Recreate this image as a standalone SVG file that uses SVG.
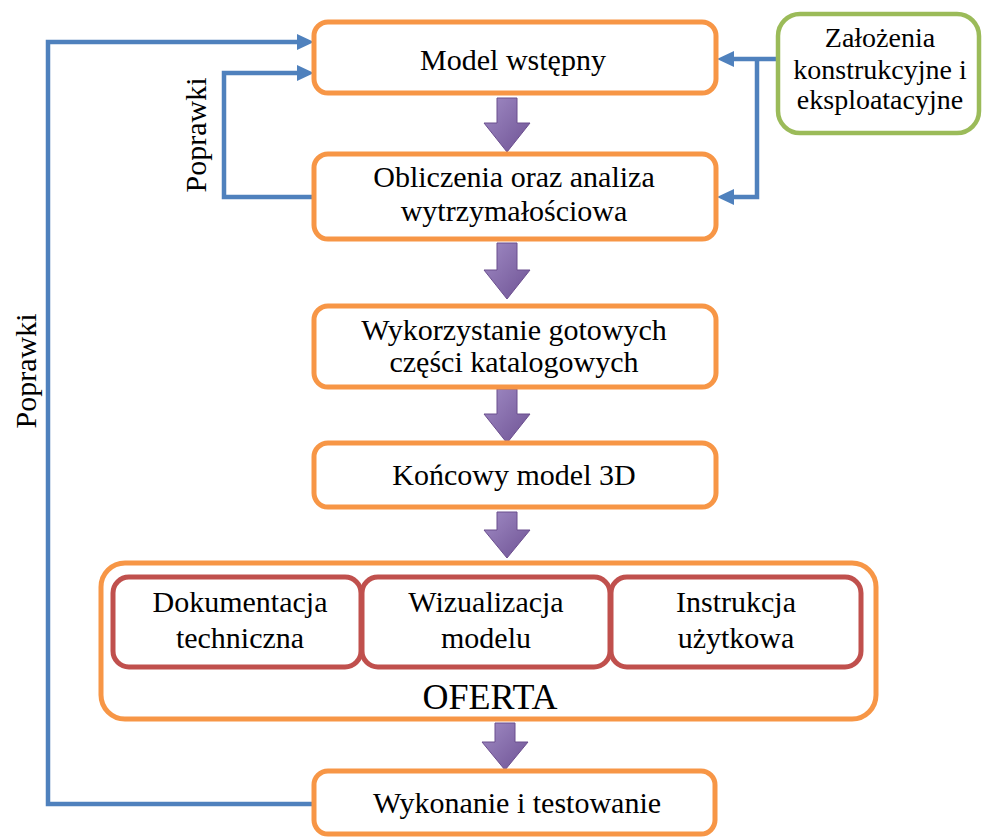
<svg xmlns="http://www.w3.org/2000/svg" width="983" height="837" viewBox="0 0 983 837">
<defs>
<style>
.ob{fill:#fff;stroke:#F79646;stroke-width:5}
.rb{fill:#fff;stroke:#C0504D;stroke-width:5}
.gb{fill:#fff;stroke:#9BBB59;stroke-width:4.5}
.t{font-family:"Liberation Serif","Times New Roman",serif;font-size:30px;fill:#000;text-anchor:middle}
.c{fill:none;stroke:#4F81BD;stroke-width:4.5}
.pa{fill:url(#pg);stroke:#6B4E8E;stroke-width:1}
</style>
<linearGradient id="pg" x1="0" y1="0" x2="1" y2="1">
<stop offset="0" stop-color="#A08BC4"/>
<stop offset="1" stop-color="#6E5294"/>
</linearGradient>
<marker id="ah" markerUnits="userSpaceOnUse" markerWidth="18" markerHeight="16" refX="0" refY="8" orient="auto">
<path d="M0,0 L17,8 L0,16 Z" fill="#4F81BD"/>
</marker>
</defs>

<g id="connectors">
<path class="c" d="M313,804 L48,804 L48,42 L297,42" marker-end="url(#ah)"/>
<path class="c" d="M313,197 L224,197 L224,73 L297,73" marker-end="url(#ah)"/>
<path class="c" d="M777,59 L734,59" marker-end="url(#ah)"/>
<path class="c" d="M757,59 L757,197 L734,197" marker-end="url(#ah)"/>
<path class="pa" d="M497,98 h20 v25 h13 l-23,29 l-23,-29 h13 Z"/>
<path class="pa" d="M497,243 h20 v27 h13 l-23,29 l-23,-29 h13 Z"/>
<path class="pa" d="M497,389 h20 v25 h13 l-23,29 l-23,-29 h13 Z"/>
<path class="pa" d="M497,512 h20 v18 h13 l-23,28 l-23,-28 h13 Z"/>
<path class="pa" d="M495,723 h20 v19 h13 l-23,28 l-23,-28 h13 Z"/>
</g>

<text class="t" transform="translate(206,135) rotate(-90)">Poprawki</text>
<text class="t" transform="translate(36,371) rotate(-90)">Poprawki</text>

<g id="n1">
<rect class="ob" x="314" y="22" width="402" height="71" rx="14"/>
<text class="t" x="513" y="70">Model wstępny</text>
</g>
<g id="n2">
<rect class="ob" x="314" y="154" width="402" height="85" rx="14"/>
<text class="t" x="514" y="187">Obliczenia oraz analiza</text>
<text class="t" x="514" y="221">wytrzymałościowa</text>
</g>
<g id="n3">
<rect class="ob" x="314" y="306" width="402" height="81" rx="14"/>
<text class="t" x="514" y="340">Wykorzystanie gotowych</text>
<text class="t" x="514" y="372">części katalogowych</text>
</g>
<g id="n4">
<rect class="ob" x="314" y="443" width="402" height="64" rx="14"/>
<text class="t" x="514" y="485">Końcowy model 3D</text>
</g>
<g id="oferta">
<rect class="ob" x="101" y="563" width="775" height="156" rx="24"/>
<text class="t" x="490" y="709" style="font-size:36px">OFERTA</text>
</g>
<g id="n5a">
<rect class="rb" x="113" y="577" width="248" height="90" rx="16"/>
<text class="t" x="240" y="612">Dokumentacja</text>
<text class="t" x="240" y="648">techniczna</text>
</g>
<g id="n5b">
<rect class="rb" x="362" y="577" width="248" height="90" rx="16"/>
<text class="t" x="486" y="612">Wizualizacja</text>
<text class="t" x="486" y="648">modelu</text>
</g>
<g id="n5c">
<rect class="rb" x="611" y="577" width="250" height="90" rx="16"/>
<text class="t" x="736" y="612">Instrukcja</text>
<text class="t" x="736" y="648">użytkowa</text>
</g>
<g id="n6">
<rect class="ob" x="314" y="771" width="401" height="63" rx="14"/>
<text class="t" x="517" y="813">Wykonanie i testowanie</text>
</g>
<g id="zal">
<rect class="gb" x="778" y="14" width="201" height="119" rx="22"/>
<text class="t" x="880" y="47" style="font-size:28px">Założenia</text>
<text class="t" x="880" y="79" style="font-size:28px">konstrukcyjne i</text>
<text class="t" x="880" y="109" style="font-size:28px">eksploatacyjne</text>
</g>
</svg>
